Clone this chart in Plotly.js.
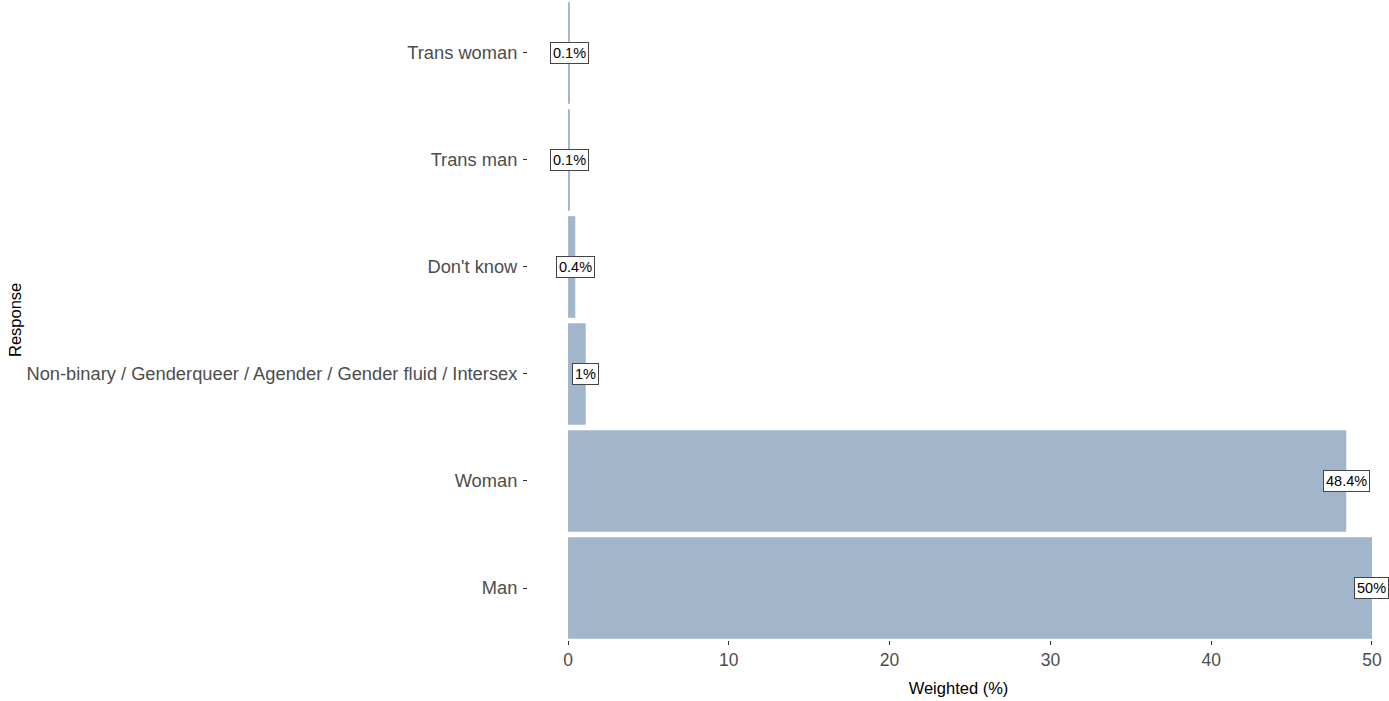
<!DOCTYPE html>
<html>
<head>
<meta charset="utf-8">
<script src="https://cdn.plot.ly/plotly-3.0.1.min.js"></script>
<style>html,body{margin:0;padding:0;background:#fff;}#chart{width:1389px;height:701px;}</style>
</head>
<body>
<div id="chart"></div>
<script>
const categories = ["Man", "Woman", "Non-binary / Genderqueer / Agender / Gender fluid / Intersex", "Don't know", "Trans man", "Trans woman"];
const values = [50.0, 48.4, 1.1, 0.45, 0.12, 0.12];
const labels = ["50%", "48.4%", "1%", "0.4%", "0.1%", "0.1%"];
const xTicks = [0, 10, 20, 30, 40, 50];

const barColor = "#A1B5CB";
const FONT = "Liberation Sans, Arial, sans-serif";

const trace = {
  type: "bar",
  orientation: "h",
  x: values,
  y: categories,
  width: 0.95,
  marker: {color: barColor},
  hoverinfo: "skip"
};

const annotations = values.map((v, i) => ({
  x: v, y: categories[i], xref: "x", yref: "y",
  text: labels[i], showarrow: false,
  font: {family: FONT, size: 14.5, color: "#000"},
  bgcolor: "#fff", bordercolor: "#444", borderwidth: 1, borderpad: 2,
  xanchor: "center", yanchor: "middle"
}));

annotations.push({
  xref: "paper", yref: "paper",
  x: (15 - 528) / 861, y: 0.5,
  text: "Response", textangle: -90, showarrow: false,
  font: {family: FONT, size: 16.5, color: "#000"},
  xanchor: "center", yanchor: "middle"
});

const layout = {
  width: 1389, height: 701,
  margin: {l: 528, r: 0, t: 0, b: 61},
  paper_bgcolor: "#fff", plot_bgcolor: "#fff",
  showlegend: false,
  font: {family: FONT},
  xaxis: {
    range: [-2.49, 51.06],
    tickvals: xTicks,
    ticktext: xTicks.map(String),
    showgrid: false, zeroline: false, showline: false,
    ticks: "outside", ticklen: 4, tickwidth: 1, tickcolor: "#333",
    tickfont: {family: FONT, size: 17.5, color: "#4d4d4d"},
    title: {text: "Weighted (%)", font: {family: FONT, size: 16.5, color: "#000"}, standoff: 13},
    automargin: false,
    fixedrange: true
  },
  yaxis: {
    type: "category",
    categoryorder: "array", categoryarray: categories,
    range: [-0.486, 5.495],
    showgrid: false, zeroline: false, showline: false,
    ticks: "outside", ticklen: 4, tickwidth: 1, tickcolor: "#333",
    tickfont: {family: FONT, size: 18.3, color: "#4d4d4d"},
    ticklabelstandoff: 2,
    automargin: false,
    fixedrange: true
  },
  annotations: annotations
};

Plotly.newPlot("chart", [trace], layout, {displayModeBar: false, staticPlot: true});
</script>
</body>
</html>
